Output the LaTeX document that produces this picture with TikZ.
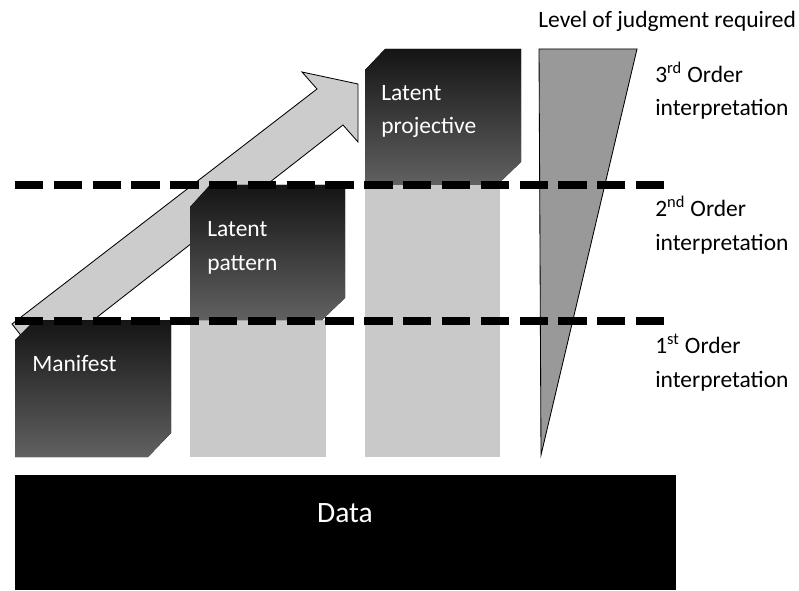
\documentclass[tikz,border=0pt]{standalone}
\usepackage{fontspec}
\setmainfont{Carlito}

\tikzset{
  darkbox/.style={top color=black!92, bottom color=black!62},
  lightcol/.style={fill=black!21},
  levelline/.style={line width=5.7pt, dash pattern=on 20.1pt off 7.5pt},
  outline/.style={draw=black, line width=0.6pt},
  lbl/.style={font=\fontsize{16.7}{24}\selectfont, inner sep=0pt, align=left, anchor=base west},
}

\begin{document}
\begin{tikzpicture}[x=0.025cm, y=-0.025cm]
\useasboundingbox (0,0) rectangle (799,590);

\fill[lightcol] (190,320) rectangle (326,457);
\fill[lightcol] (365,185) rectangle (500,457);

% rising arrow
\path[outline, fill=black!20] (12,324) -- (317,89) -- (302,72) -- (358,84)
  -- (358,142) -- (343,125) -- (41,361) -- cycle;

% judgment wedge
\path[outline, fill=black!40] (539,49) -- (637,49) -- (541,455) -- cycle;

\fill[darkbox] (15,340) -- (35,320) -- (171,320) -- (171,433) -- (148,457) -- (15,457) -- cycle;
\fill[darkbox] (190,207) -- (210,185) -- (345,185) -- (345,298) -- (322,320) -- (190,320) -- cycle;
\fill[darkbox] (365,70) -- (385,49) -- (521,49) -- (521,162) -- (497,185) -- (365,185) -- cycle;

\draw[levelline] (15,185) -- (666,185);
\draw[levelline] (15,321) -- (666,321);

\fill[black] (15,475) rectangle (676,590);

% base of a two-line label = baseline of its last line
\node[lbl, text=white] (manifest) at (32,371) {Manifest};
\node[lbl, text=white] (pattern) at (207,270) {Latent\\pattern};
\node[lbl, text=white] (projective) at (381,134) {Latent\\projective};
\node[lbl, text=white, anchor=base, font=\fontsize{21}{24}\selectfont] (data) at (345,522) {Data};

\node[lbl] (judgment) at (538,28) {Level of judgment required};
\node[lbl] (third) at (655,116) {3\textsuperscript{rd} Order\\interpretation};
\node[lbl] (second) at (655,250) {2\textsuperscript{nd} Order\\interpretation};
\node[lbl] (first) at (655,387) {1\textsuperscript{st} Order\\interpretation};
\end{tikzpicture}
\end{document}
